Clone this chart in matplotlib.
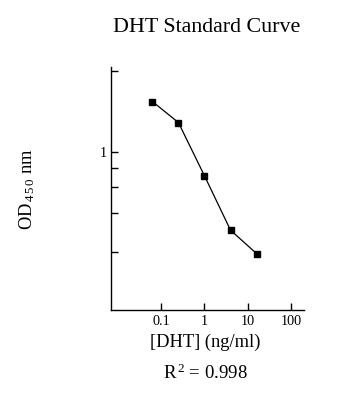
import numpy as np
import matplotlib
matplotlib.use("Agg")
import matplotlib.pyplot as plt
from matplotlib.ticker import FixedLocator, FixedFormatter, NullLocator

# data
dht_conc = [0.0625, 0.25, 1, 4, 16]
od450 = [2.11, 1.55, 0.71, 0.32, 0.227]

x_ticks = [0.1, 1, 10, 100]
x_tick_labels = ["0.1", "1", "10", "100"]
y_ticks = [3.3, 1, 0.8, 0.6, 0.41, 0.233]
y_tick_labels = ["", "1", "", "", "", ""]

plt.rcParams['font.family'] = ['Liberation Serif', 'DejaVu Serif']
plt.rcParams['mathtext.fontset'] = 'custom'
plt.rcParams['mathtext.rm'] = 'Liberation Serif'
plt.rcParams['mathtext.it'] = 'Liberation Serif:italic'
plt.rcParams['mathtext.bf'] = 'Liberation Serif:bold'

fig = plt.figure(figsize=(3.46, 3.96), dpi=100)
ax = fig.add_axes([111 / 346, 86.5 / 396, 193 / 346, 242.5 / 396])

ax.plot(dht_conc, od450, color='black', linewidth=0.9, marker='s',
        markersize=4.5, markerfacecolor='black', markeredgecolor='black')

ax.set_xscale('log')
ax.set_yscale('log')
ax.set_xlim(0.0069, 200)
ax.set_ylim(0.1, 3.5)

ax.xaxis.set_major_locator(FixedLocator(x_ticks))
ax.xaxis.set_major_formatter(FixedFormatter(x_tick_labels))
ax.xaxis.set_minor_locator(NullLocator())
ax.yaxis.set_major_locator(FixedLocator(y_ticks))
ax.yaxis.set_major_formatter(FixedFormatter(y_tick_labels))
ax.yaxis.set_minor_locator(NullLocator())

ax.tick_params(direction='in', length=5, width=1, labelsize=10.3, colors='black')
ax.tick_params(axis='x', pad=4)
ax.tick_params(axis='y', pad=3)

for side in ['top', 'right']:
    ax.spines[side].set_visible(False)
for side in ['left', 'bottom']:
    ax.spines[side].set_linewidth(1)

fig.text(207 / 346, 1 - 28 / 396, "DHT Standard Curve", ha='center', va='center', fontsize=15.8)
fig.text(205 / 346, 1 - 342 / 396, "[DHT] (ng/ml)", ha='center', va='center', fontsize=13.3)
fig.text(205 / 346, 1 - 373 / 396, "R$^{\\,2}$ = 0.998", ha='center', va='center', fontsize=13.5)
fig.text(27 / 346, 1 - 189 / 396, "OD$_{\\,4\\,5\\,0}$ nm", ha='center', va='center',
         fontsize=13.3, rotation=90)

fig.savefig("out.png", dpi=100)
